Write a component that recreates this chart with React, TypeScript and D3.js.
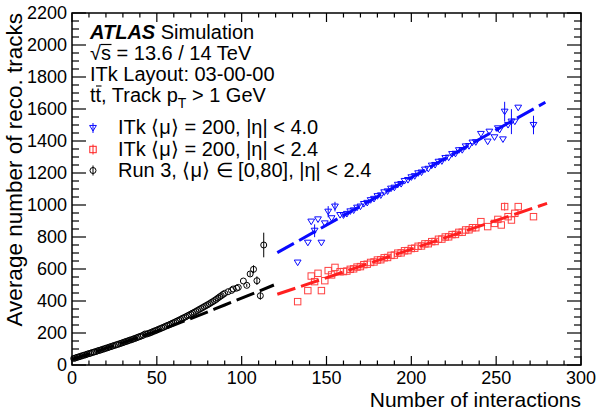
import { useEffect, useRef } from 'react';
import * as d3 from 'd3';

// Run 3, <mu> in [0,80], |eta| < 2.4 : [interactions, tracks, error]
const run3Points = [
  [1, 41, 0], [2, 44, 0], [3, 48, 0], [4, 51, 0], [5, 54, 0], [6, 58, 0], [7, 61, 0], [8, 64, 0], [9, 68, 0], [10, 71, 0],
  [11, 74, 0], [12, 78, 0], [13, 81, 0], [14, 84, 0], [15, 88, 0], [16, 91, 0], [17, 94, 0], [18, 98, 0], [19, 101, 0], [20, 105, 0],
  [21, 108, 0], [22, 112, 0], [23, 115, 0], [24, 119, 0], [25, 122, 0], [26, 126, 0], [27, 129, 0], [28, 133, 0], [29, 136, 0], [30, 140, 0],
  [31, 144, 0], [32, 147, 0], [33, 151, 0], [34, 155, 0], [35, 158, 0], [36, 162, 0], [37, 166, 0], [38, 170, 0], [39, 174, 0], [40, 178, 0],
  [41, 182, 0], [42, 186, 0], [43, 194, 0], [44, 193, 0], [45, 197, 0], [46, 201, 0], [47, 205, 0], [48, 210, 0], [49, 214, 0], [50, 218, 0],
  [51, 223, 0], [52, 227, 0], [53, 232, 0], [54, 236, 0], [55, 241, 0], [56, 246, 0], [57, 250, 0], [58, 255, 0], [59, 260, 0], [60, 265, 0],
  [61, 270, 0], [62, 275, 0], [63, 280, 0], [64, 285, 0], [65, 291, 0], [66, 296, 0], [67, 301, 0], [68, 307, 0], [69, 312, 0], [70, 318, 0],
  [71, 324, 0], [72, 329, 0], [73, 335, 0], [74, 341, 0], [75, 347, 0], [76, 353, 0], [77, 359, 0], [78, 365, 0], [79, 371, 0], [80, 377, 0],
  [81, 383, 0], [82, 390, 0], [83, 396, 0], [84, 403, 0], [85, 410, 0], [86, 418, 0], [87, 426, 0], [88, 433, 0], [89, 441, 0], [90, 448, 0],
  [92, 458, 0], [94, 466, 0], [95, 475, 0], [97, 480, 0], [98, 485, 0], [101, 525, 0], [103, 498, 10],
  [105, 569, 15], [107, 598, 25], [109, 527, 27], [111, 433, 25], [113, 750, 77],
];

// ITk <mu> = 200, |eta| < 4.0
const itkWidePoints = [
  [133, 640, 0], [139, 764, 0], [141, 896, 0], [143, 839, 40], [145, 910, 0], [147, 764, 0], [149, 885, 0],
  [151, 958, 35], [153, 917, 0], [155, 990, 30], [158, 937, 0],
  [160, 935, 0], [162, 944, 0], [164, 960, 0], [166, 966, 0], [168, 983, 0], [170, 990, 0], [172, 1006, 0], [174, 1013, 0],
  [176, 1030, 0], [178, 1038, 0], [180, 1055, 0], [182, 1060, 0], [184, 1079, 0], [186, 1085, 0], [188, 1102, 0], [190, 1108, 0],
  [192, 1126, 0], [194, 1131, 0], [196, 1150, 0], [198, 1156, 0], [200, 1173, 0], [202, 1180, 0], [204, 1198, 0], [206, 1203, 0],
  [208, 1221, 0], [210, 1226, 0], [212, 1246, 0], [214, 1250, 0], [216, 1270, 0], [218, 1273, 0], [220, 1293, 0], [222, 1296, 0],
  [224, 1318, 0], [226, 1320, 0], [228, 1342, 0], [230, 1343, 0], [232, 1366, 0], [234, 1368, 0], [236, 1390, 0], [238, 1392, 0],
  [241, 1444, 0], [245, 1396, 0], [246, 1458, 0], [249, 1423, 0], [251, 1479, 0], [252, 1469, 0], [254, 1410, 0],
  [255, 1583, 62], [257, 1500, 0], [259, 1521, 78], [261, 1521, 0], [263, 1608, 0], [272, 1500, 58],
];

// ITk <mu> = 200, |eta| < 2.4
const itkCentralPoints = [
  [133, 396, 0], [139, 465, 0], [141, 556, 0], [143, 521, 0], [145, 573, 0], [147, 465, 0], [149, 527, 0],
  [151, 590, 0], [153, 563, 0], [155, 610, 0], [158, 583, 0],
  [160, 584, 0], [162, 587, 0], [164, 598, 0], [166, 601, 0], [168, 612, 0], [170, 615, 0], [172, 627, 0], [174, 630, 0],
  [176, 641, 0], [178, 644, 0], [180, 656, 0], [182, 658, 0], [184, 670, 0], [186, 672, 0], [188, 685, 0], [190, 687, 0],
  [192, 699, 0], [194, 701, 0], [196, 714, 0], [198, 715, 0], [200, 728, 0], [202, 730, 0], [204, 742, 0], [206, 744, 0],
  [208, 757, 0], [210, 758, 0], [212, 771, 0], [214, 772, 0], [216, 786, 0], [218, 787, 0], [220, 800, 0], [222, 801, 0],
  [224, 815, 0], [226, 816, 0], [228, 829, 0], [230, 830, 0], [232, 844, 0], [234, 845, 0], [236, 858, 0], [238, 858, 0],
  [241, 896, 0], [245, 865, 0], [249, 885, 0], [251, 910, 0], [253, 875, 0], [255, 990, 25], [257, 927, 0],
  [259, 906, 0], [261, 948, 0], [263, 990, 0], [272, 927, 0],
];

// fitted trend lines
const run3Fit = [[0, 35], [30, 140], [60, 250], [90, 375], [119, 500]];
const itkWideFit = [[121, 702], [279, 1642]];
const itkCentralFit = [[121, 442], [280, 1010]];

const xTicks = [0, 50, 100, 150, 200, 250, 300];
const yTicks = [0, 200, 400, 600, 800, 1000, 1200, 1400, 1600, 1800, 2000, 2200];

const legendLabels = [
  'ITk \u27E8\u03BC\u27E9 = 200, |\u03B7| < 4.0',
  'ITk \u27E8\u03BC\u27E9 = 200, |\u03B7| < 2.4',
  'Run 3, \u27E8\u03BC\u27E9 \u2208 [0,80], |\u03B7| < 2.4',
];

const FONT = '"Liberation Sans", Arial, Helvetica, sans-serif';
const BLUE = '#0a0aff';
const RED = '#ff2020';

const App = () => {
  const svgRef = useRef(null);

  useEffect(() => {
    const width = 597;
    const height = 412;
    const left = 72, right = 581, top = 13, bottom = 365;

    const svg = d3.select(svgRef.current)
      .attr('width', width)
      .attr('height', height)
      .style('font-family', FONT);
    svg.selectAll('*').remove();

    const x = d3.scaleLinear().domain([0, 300]).range([left, right]);
    const y = d3.scaleLinear().domain([0, 2200]).range([bottom, top]);

    svg.append('rect').attr('width', width).attr('height', height).attr('fill', '#fff');

    // frame ticks (ROOT style, inside on all sides)
    const ticks = svg.append('g').attr('stroke', '#000').attr('stroke-width', 1.2);
    for (let v = 0; v <= 300; v += 10) {
      const len = v % 50 === 0 ? 9 : 4.5;
      ticks.append('line').attr('x1', x(v)).attr('x2', x(v)).attr('y1', bottom).attr('y2', bottom - len);
      ticks.append('line').attr('x1', x(v)).attr('x2', x(v)).attr('y1', top).attr('y2', top + len);
    }
    for (let v = 0; v <= 2200; v += 50) {
      const len = v % 200 === 0 ? 14 : 7;
      ticks.append('line').attr('y1', y(v)).attr('y2', y(v)).attr('x1', left).attr('x2', left + len);
      ticks.append('line').attr('y1', y(v)).attr('y2', y(v)).attr('x1', right).attr('x2', right - len);
    }
    svg.append('rect')
      .attr('x', left).attr('y', top)
      .attr('width', right - left).attr('height', bottom - top)
      .attr('fill', 'none').attr('stroke', '#000').attr('stroke-width', 1.5);

    // tick labels
    svg.append('g').selectAll('text').data(xTicks).enter().append('text')
      .attr('x', d => x(d)).attr('y', 384)
      .attr('text-anchor', 'middle').style('font-size', '18px')
      .text(d => d);
    svg.append('g').selectAll('text').data(yTicks).enter().append('text')
      .attr('x', 67).attr('y', d => y(d)).attr('dy', '0.36em')
      .attr('text-anchor', 'end').style('font-size', '18px')
      .text(d => d);

    // axis titles
    svg.append('text')
      .attr('x', right).attr('y', 407)
      .attr('text-anchor', 'end').style('font-size', '21px')
      .text('Number of interactions');
    svg.append('text')
      .attr('transform', `translate(22,${top}) rotate(-90)`)
      .attr('text-anchor', 'end').style('font-size', '22.5px')
      .text('Average number of reco. tracks');

    // fit lines
    const line = d3.line().x(d => x(d[0])).y(d => y(d[1])).curve(d3.curveMonotoneX);
    const fits = [
      { pts: itkWideFit, color: BLUE },
      { pts: itkCentralFit, color: RED },
      { pts: run3Fit, color: '#000' },
    ];
    fits.forEach(f => {
      svg.append('path').attr('d', line(f.pts))
        .attr('fill', 'none').attr('stroke', f.color)
        .attr('stroke-width', 3).attr('stroke-dasharray', '19 6');
    });

    // markers
    const tri = (cx, cy, s) => `M${cx - s},${cy - s * 0.75}L${cx + s},${cy - s * 0.75}L${cx},${cy + s * 0.9}Z`;
    const drawMarker = (g, kind, cx, cy, color) => {
      if (kind === 'tri') {
        g.append('path').attr('d', tri(cx, cy, 3.4)).attr('fill', 'none').attr('stroke', color).attr('stroke-width', 1);
      } else if (kind === 'sq') {
        g.append('rect').attr('x', cx - 3.2).attr('y', cy - 3.2).attr('width', 6.4).attr('height', 6.4)
          .attr('fill', 'none').attr('stroke', color).attr('stroke-width', 1);
      } else {
        g.append('circle').attr('cx', cx).attr('cy', cy).attr('r', 3)
          .attr('fill', 'none').attr('stroke', color).attr('stroke-width', 1);
      }
    };

    const series = [
      { pts: itkCentralPoints, kind: 'sq', color: RED },
      { pts: itkWidePoints, kind: 'tri', color: BLUE },
      { pts: run3Points, kind: 'circ', color: '#000' },
    ];
    series.forEach(s => {
      const g = svg.append('g').attr('opacity', s.kind === 'sq' ? 0.85 : 1);
      s.pts.forEach(p => {
        const cx = x(p[0]), cy = y(p[1]);
        if (p[2] > 0) {
          g.append('line').attr('x1', cx).attr('x2', cx)
            .attr('y1', y(p[1] + p[2])).attr('y2', y(p[1] - p[2]))
            .attr('stroke', s.color).attr('stroke-width', 1);
        }
        drawMarker(g, s.kind, cx, cy, s.color);
      });
    });

    // header text
    const hdr = svg.append('g').style('font-size', '20px');
    const t1 = hdr.append('text').attr('x', 90).attr('y', 39);
    t1.append('tspan').style('font-weight', 'bold').style('font-style', 'italic').text('ATLAS');
    t1.append('tspan').text(' Simulation');
    hdr.append('text').attr('x', 90).attr('y', 60).text('\u221As = 13.6 / 14 TeV');
    hdr.append('line').attr('x1', 101).attr('x2', 111.5).attr('y1', 44.5).attr('y2', 44.5)
      .attr('stroke', '#000').attr('stroke-width', 1.2);
    hdr.append('text').attr('x', 90).attr('y', 81).text('ITk Layout: 03-00-00');
    const t4 = hdr.append('text').attr('x', 90).attr('y', 102);
    t4.append('tspan').text('tt, Track p');
    t4.append('tspan').attr('dy', 6).style('font-size', '14px').text('T');
    t4.append('tspan').attr('dy', -6).text(' > 1 GeV');
    hdr.append('line').attr('x1', 96).attr('x2', 101.5).attr('y1', 86).attr('y2', 86)
      .attr('stroke', '#000').attr('stroke-width', 1.1);

    // legend
    const legKinds = [
      { kind: 'tri', color: BLUE },
      { kind: 'sq', color: RED },
      { kind: 'circ', color: '#000' },
    ];
    const legY = [134, 155.5, 176.5];
    legKinds.forEach((k, i) => {
      const cy = legY[i] - 6;
      hdr.append('line').attr('x1', 93).attr('x2', 93).attr('y1', cy - 5).attr('y2', cy + 5)
        .attr('stroke', k.color).attr('stroke-width', 1);
      drawMarker(hdr, k.kind, 93, cy, k.color);
      hdr.append('text').attr('x', 118).attr('y', legY[i]).text(legendLabels[i]);
    });
  }, []);

  return (
    <div>
      <svg ref={svgRef} style={{ position: 'absolute', left: 0, top: 0 }}></svg>
    </div>
  );
};

export default App;
